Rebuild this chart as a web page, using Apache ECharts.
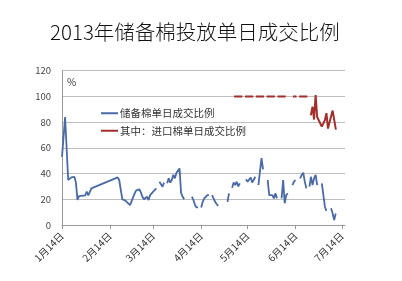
<!DOCTYPE html>
<html>
<head>
<meta charset="utf-8">
<style>
  html, body { margin: 0; padding: 0; background: #fff; }
  #chart { width: 402px; height: 281px; }
</style>
<script src="https://cdn.jsdelivr.net/npm/echarts@6/dist/echarts.min.js"></script>
</head>
<body>
<div id="chart"></div>
<script>
// Daily deal ratio of state reserve cotton auctions, 2013 (%). null = no trading / break in line.
const reserveDates = [
  '2013-01-14','2013-01-16','2013-01-18','2013-01-20','2013-01-22','2013-01-23','2013-01-24','2013-01-25',
  '2013-01-29','2013-01-30','2013-01-31','2013-02-02','2013-02-19','2013-02-20','2013-02-22','2013-02-24',
  '2013-02-27','2013-02-28','2013-03-02','2013-03-03','2013-03-05','2013-03-06','2013-03-07','2013-03-08',
  '2013-03-10','2013-03-11','2013-03-12','2013-03-13','2013-03-14','2013-03-15','2013-03-16','2013-03-17',
  '2013-03-18','2013-03-20','2013-03-21','2013-03-22','2013-03-23','2013-03-24','2013-03-25','2013-03-26',
  '2013-03-27','2013-03-28','2013-03-29','2013-03-30','2013-03-31','2013-04-01','2013-04-02','2013-04-03',
  '2013-04-05','2013-04-08','2013-04-09','2013-04-10','2013-04-11','2013-04-12','2013-04-13','2013-04-14',
  '2013-04-15','2013-04-16','2013-04-17','2013-04-18','2013-04-19','2013-04-20','2013-04-21','2013-04-22',
  '2013-04-23','2013-04-24','2013-04-25','2013-04-28','2013-05-01','2013-05-02','2013-05-03','2013-05-04',
  '2013-05-05','2013-05-06','2013-05-07','2013-05-08','2013-05-09','2013-05-11','2013-05-13','2013-05-14',
  '2013-05-16','2013-05-17','2013-05-19','2013-05-20','2013-05-21','2013-05-23','2013-05-24','2013-05-25',
  '2013-05-27','2013-05-28','2013-05-29','2013-05-30','2013-05-31','2013-06-01','2013-06-02','2013-06-03',
  '2013-06-05','2013-06-06','2013-06-07','2013-06-08','2013-06-09','2013-06-10','2013-06-12','2013-06-13',
  '2013-06-14','2013-06-15','2013-06-17','2013-06-18','2013-06-19','2013-06-20','2013-06-21','2013-06-22',
  '2013-06-23','2013-06-24','2013-06-25','2013-06-26','2013-06-27','2013-06-28','2013-06-29','2013-07-01',
  '2013-07-03','2013-07-04','2013-07-05','2013-07-07','2013-07-08','2013-07-09','2013-07-10'
];
const reserveValues = [
  53, 84, 35, 37, 37.5, 33, 19.5, 22.5,
  23, 26, 23, 28.5, 37, 35, 20, 19,
  15.5, 14.8, 24.6, 27, 27.8, 25.4, 22, 20,
  22, 19.4, 23.3, 24.6, 26, 26.7, 28.5, null,
  33.7, 29.8, 33, null, 32.4, 36.3, 33, 35,
  39, 36.3, 40.7, 41, 44, 25, 22, 20,
  null, 22, 19.4, 15.5, 13.7, 13.7, null, 13.7,
  18, 20.7, 19.4, 23.3, 23.3, null, 23.3, 20.7,
  18, 16.3, 14.8, null, 18, 24.6, null, 29,
  33, 31, 33.7, 30, 32.4, null, 35.5, 33.7,
  37, 33, 37.5, null, 31, 52, 43.3, null,
  35, 23.3, 22, 23.3, 20.7, 24.6, 20.7, null,
  20.7, 35, 16.9, 23.3, 24.6, null, 31, 33.7,
  35, null, 36.3, 38.9, 40.7, 33.7, 28.5, null,
  29.8, 37.5, 31, 36.3, 38.9, 31, null, 32.4,
  14.2, 11, null, 13, 9, 3.9, 9
];

// Of which: imported cotton daily deal ratio (%). Weekends / holidays left empty.
const importDates = [
  '2013-05-06','2013-05-07','2013-05-08','2013-05-09','2013-05-10','2013-05-11',
  '2013-05-13','2013-05-14','2013-05-15','2013-05-16','2013-05-17','2013-05-18',
  '2013-05-20','2013-05-21','2013-05-22','2013-05-23','2013-05-24','2013-05-25',
  '2013-05-27','2013-05-28','2013-05-29','2013-05-30','2013-05-31','2013-06-01',
  '2013-06-03','2013-06-04','2013-06-05','2013-06-06','2013-06-07','2013-06-08',
  '2013-06-13','2013-06-14','2013-06-15',
  '2013-06-17','2013-06-18','2013-06-19','2013-06-20','2013-06-21','2013-06-22',
  '2013-06-24','2013-06-25','2013-06-26','2013-06-27','2013-06-28','2013-07-01',
  '2013-07-03','2013-07-04','2013-07-05','2013-07-06','2013-07-08','2013-07-10'
];
const importValues = [
  100, 100, 100, 100, 100, null,
  100, 100, 100, 100, 100, null,
  100, 100, 100, 100, 100, null,
  100, 100, 100, 100, 100, null,
  100, 100, 100, 100, 100, null,
  100, 100, null,
  100, 100, 100, 100, 100, null,
  86, 92, 82, 101, 84, 76.5,
  81.6, 87, 75, 80, 89, 75
];

const tickDates = ['2013-01-14','2013-02-14','2013-03-14','2013-04-14','2013-05-14','2013-06-14','2013-07-14'];
const tickLabels = ['1月14日','2月14日','3月14日','4月14日','5月14日','6月14日','7月14日'];

const titleText = '2013年储备棉投放单日成交比例';
const seriesNames = ['储备棉单日成交比例', '其中：进口棉单日成交比例'];

// Dates become millisecond timestamps on a numeric x axis
const ts = s => new Date(s + 'T00:00:00').getTime();
const tickTs = tickDates.map(ts);
const pairs = (dates, vals) => dates.map((d, i) => [ts(d), vals[i]]);

const font = '"Noto Sans CJK SC", "Noto Sans", sans-serif';
const blue = '#4a6aa6';
const red = '#a22f2e';
const chart = echarts.init(document.getElementById('chart'), null, { renderer: 'canvas' });

chart.setOption({
  animation: false,
  backgroundColor: '#fff',
  textStyle: { fontFamily: font },
  title: {
    text: titleText,
    left: 45,
    top: 17,
    textStyle: { fontFamily: font, fontSize: 20.5, fontWeight: 300, color: '#111' }
  },
  legend: {
    orient: 'vertical',
    left: 96,
    top: 103,
    icon: 'rect',
    itemWidth: 17,
    itemHeight: 2,
    itemGap: 7,
    textStyle: { fontFamily: font, fontSize: 10.5, color: '#333', padding: [0, 0, 0, -3] },
    data: seriesNames
  },
  graphic: [{
    type: 'text',
    left: 67,
    top: 77,
    style: { text: '%', fontFamily: font, fontSize: 10, fill: '#333' }
  }],
  grid: { left: 62, right: 57, top: 70.7, bottom: 56 },
  xAxis: {
    type: 'value',
    min: ts('2013-01-14'),
    max: ts('2013-07-16'),
    axisLine: { lineStyle: { color: '#999', width: 1 } },
    axisTick: { show: true, length: 4, lineStyle: { color: '#999' }, customValues: tickTs },
    splitLine: { show: false },
    axisLabel: {
      customValues: tickTs,
      rotate: 45,
      fontSize: 10,
      color: '#333',
      margin: 9,
      fontFamily: font,
      formatter: v => {
        const i = tickTs.indexOf(v);
        return i >= 0 ? tickLabels[i] : '';
      }
    }
  },
  yAxis: {
    type: 'value',
    min: 0,
    max: 120,
    interval: 20,
    axisLine: { show: true, lineStyle: { color: '#999' } },
    axisTick: { show: false },
    splitLine: { lineStyle: { color: '#bdbdbd', width: 1 } },
    axisLabel: { fontSize: 9.5, color: '#444', margin: 11, fontFamily: font }
  },
  series: [
    {
      name: seriesNames[0],
      type: 'line',
      data: pairs(reserveDates, reserveValues),
      symbol: 'none',
      connectNulls: false,
      lineStyle: { color: blue, width: 1.8 },
      itemStyle: { color: blue }
    },
    {
      name: seriesNames[1],
      type: 'line',
      data: pairs(importDates, importValues),
      symbol: 'none',
      connectNulls: false,
      lineStyle: { color: red, width: 2, cap: 'square' },
      itemStyle: { color: red }
    }
  ]
});
</script>
</body>
</html>
